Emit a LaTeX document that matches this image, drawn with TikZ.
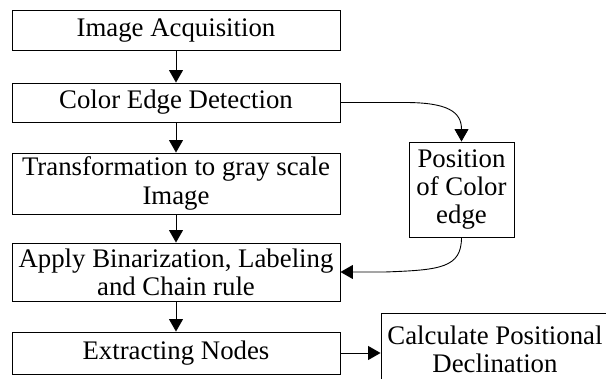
\documentclass[tikz,border=0pt]{standalone}
\usepackage{fontspec}
\setmainfont{Liberation Serif}
\usetikzlibrary{arrows.meta}
\begin{document}
\begin{tikzpicture}[x=1pt,y=-1pt,
  box/.style={draw=black,line width=0.9pt,rectangle,inner sep=0pt,align=center,
    font=\fontsize{26.8}{28.3}\selectfont},
  flow/.style={draw=black,line width=0.9pt,-{Triangle[length=12.5pt,width=14pt]}}]
\useasboundingbox (0,0) rectangle (606,379);
\clip (0,0) rectangle (606,379);
% main chain
\node[box,minimum width=328pt,minimum height=40pt] (acq) at (176,30.5) {Image Acquisition};
\node[box,minimum width=328pt,minimum height=39pt] (edge) at (176,102.5) {Color Edge Detection};
\node[box,minimum width=328pt,minimum height=61pt] (gray) at (176,183.5) {Transformation to gray scale\\Image};
\node[box,minimum width=328pt,minimum height=58pt] (bin) at (176,272) {Apply Binarization, Labeling\\and Chain rule};
\node[box,minimum width=328pt,minimum height=42pt] (ext) at (176,353) {Extracting Nodes};
% side boxes
\node[box,minimum width=105pt,minimum height=95pt] (pos) at (461.5,189.5) {Position\\of Color\\edge};
\node[box,minimum width=228pt,minimum height=72pt] (calc) at (495,349) {Calculate Positional\\Declination};
% connectors
\draw[flow] (acq) -- (edge);
\draw[flow] (edge) -- (gray);
\draw[flow] (gray) -- (bin);
\draw[flow] (bin) -- (ext);
\draw[flow] (ext.east) -- (calc.west |- ext.east);
\draw[flow] (edge.east) -- (405,102.5) .. controls (448,102.5) and (461.5,112) .. (pos.north);
\draw[flow] (pos.south) .. controls (461.5,268) and (440,270) .. (385,272) -- (bin.east);
\end{tikzpicture}
\end{document}
